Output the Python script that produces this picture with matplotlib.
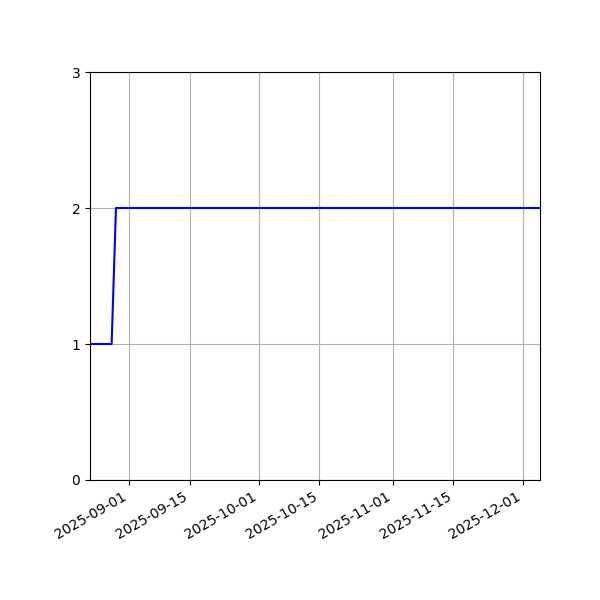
import matplotlib
matplotlib.use("Agg")
import matplotlib.pyplot as plt
import pandas as pd

# puntos de cambio de la serie
fechas = pd.to_datetime(["2025-08-23", "2025-08-28", "2025-08-29", "2025-12-05"])
valores = [1, 1, 2, 2]

fig, ax = plt.subplots(figsize=(6, 6), dpi=100)
ax.plot(fechas, valores, color="blue")
ax.set_xlim(fechas[0], fechas[-1])
ax.set_ylim(0, 3)
ax.set_yticks([0, 1, 2, 3])
ax.grid(True)
fig.autofmt_xdate()
fig.subplots_adjust(left=0.15, right=0.9, top=0.88, bottom=0.2)
fig.savefig("out.png")
